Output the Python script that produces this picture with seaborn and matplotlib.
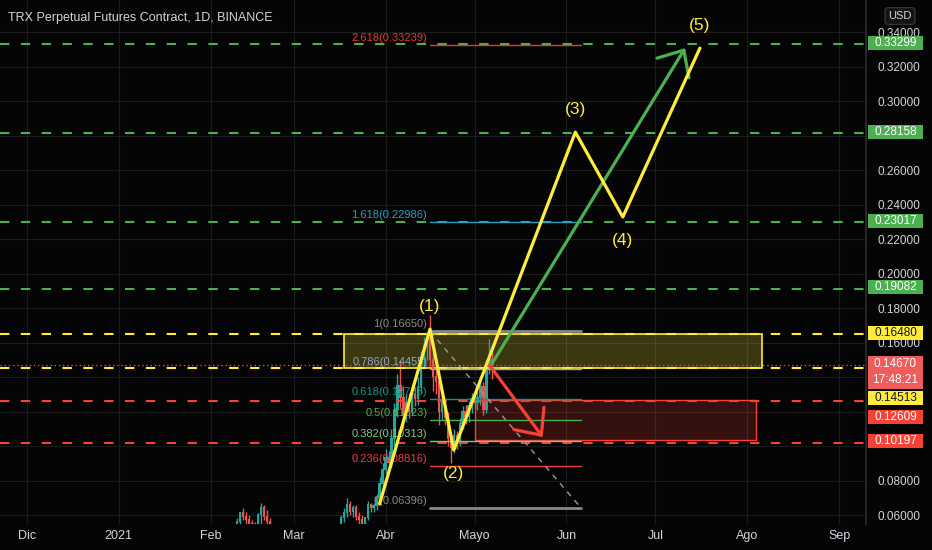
import numpy as np
import pandas as pd
import matplotlib
matplotlib.use('Agg')
import matplotlib.pyplot as plt
import matplotlib.dates as mdates
from matplotlib.patches import Rectangle
import seaborn as sns

# ---------------- datos ----------------
# velas diarias (OHLC) visibles
fechas_feb = pd.date_range('2021-02-10', '2021-02-21')
open_feb = [0.053, 0.056, 0.061, 0.059, 0.057, 0.055, 0.052, 0.055, 0.060, 0.064, 0.059, 0.056]
high_feb = [0.058, 0.062, 0.064, 0.062, 0.060, 0.057, 0.056, 0.061, 0.067, 0.066, 0.063, 0.058]
low_feb = [0.051, 0.054, 0.057, 0.055, 0.053, 0.050, 0.050, 0.053, 0.055, 0.057, 0.054, 0.051]
close_feb = [0.056, 0.061, 0.059, 0.057, 0.055, 0.052, 0.055, 0.060, 0.064, 0.059, 0.056, 0.053]

fechas_abr = pd.date_range('2021-03-17', '2021-05-07')
open_abr = [0.054, 0.058, 0.061, 0.066, 0.062, 0.064, 0.059, 0.057, 0.055, 0.058, 0.066, 0.064,
            0.065, 0.070, 0.078, 0.086, 0.093, 0.090, 0.104, 0.121, 0.135, 0.128, 0.118, 0.125,
            0.120, 0.130, 0.127, 0.134, 0.150, 0.158, 0.162, 0.150, 0.140, 0.137, 0.120, 0.125,
            0.116, 0.104, 0.099, 0.106, 0.102, 0.113, 0.120, 0.117, 0.123, 0.127, 0.125, 0.128,
            0.134, 0.121, 0.145, 0.150]
high_abr = [0.060, 0.064, 0.070, 0.068, 0.066, 0.066, 0.062, 0.060, 0.059, 0.068, 0.067, 0.067,
            0.072, 0.082, 0.090, 0.098, 0.097, 0.110, 0.125, 0.142, 0.150, 0.135, 0.130, 0.131,
            0.136, 0.134, 0.140, 0.155, 0.163, 0.166, 0.176, 0.158, 0.146, 0.140, 0.131, 0.127,
            0.120, 0.107, 0.110, 0.109, 0.116, 0.123, 0.124, 0.126, 0.131, 0.131, 0.132, 0.138,
            0.137, 0.150, 0.162, 0.156]
low_abr = [0.052, 0.056, 0.059, 0.060, 0.059, 0.057, 0.054, 0.052, 0.053, 0.057, 0.062, 0.062,
           0.063, 0.068, 0.075, 0.084, 0.086, 0.088, 0.100, 0.117, 0.122, 0.110, 0.114, 0.116,
           0.118, 0.123, 0.124, 0.131, 0.146, 0.150, 0.146, 0.132, 0.130, 0.112, 0.115, 0.112,
           0.100, 0.090, 0.096, 0.098, 0.100, 0.110, 0.113, 0.114, 0.119, 0.122, 0.121, 0.124,
           0.118, 0.119, 0.142, 0.139]
close_abr = [0.058, 0.061, 0.066, 0.062, 0.064, 0.059, 0.057, 0.055, 0.058, 0.066, 0.064, 0.065,
             0.070, 0.078, 0.086, 0.093, 0.090, 0.104, 0.121, 0.135, 0.128, 0.118, 0.125, 0.120,
             0.130, 0.127, 0.134, 0.150, 0.158, 0.162, 0.150, 0.140, 0.137, 0.120, 0.125, 0.116,
             0.104, 0.099, 0.106, 0.102, 0.113, 0.120, 0.117, 0.123, 0.127, 0.125, 0.128, 0.134,
             0.121, 0.145, 0.150, 0.1467]

# niveles horizontales
niveles_verdes = [0.33299, 0.28158, 0.23017, 0.19082]
niveles_amarillos = [0.16480, 0.14513]
niveles_rojos = [0.12609, 0.10197]
precio_actual = 0.14670
hora_cierre = '17:48:21'

# fibonacci
fib_ratios = ['0', '0.236', '0.382', '0.5', '0.618', '0.786', '1', '1.618', '2.618']
fib_precios = [0.06396, 0.08816, 0.10313, 0.11523, 0.12733, 0.14455, 0.16650, 0.22986, 0.33239]
fib_colores = ['#8a8a80', '#f23645', '#81c784', '#4caf50', '#089981', '#8fa9bf', '#8a8a80',
               '#2a9fbf', '#e53935']
fib_desde, fib_hasta = '2021-04-16', '2021-06-06'

# ondas de elliott
onda_fechas = ['2021-03-30', '2021-04-16', '2021-04-24', '2021-06-04', '2021-06-20', '2021-07-16']
onda_precios = [0.0664, 0.1678, 0.0977, 0.2820, 0.2328, 0.3307]
onda_etiquetas = ['', '(1)', '(2)', '(3)', '(4)', '(5)']

# flechas y zonas
flecha_verde = (('2021-05-07', 0.1481), ('2021-07-11', 0.3307))
flecha_roja = (('2021-05-06', 0.1470), ('2021-05-24', 0.1052))
zona_amarilla = ('2021-03-18', '2021-08-06', 0.1452, 0.1652)
zona_roja = ('2021-05-01', '2021-08-04', 0.1035, 0.1267)

meses = ['2020-12-01', '2021-01-01', '2021-02-01', '2021-03-01', '2021-04-01', '2021-05-01',
         '2021-06-01', '2021-07-01', '2021-08-01', '2021-09-01']
meses_txt = ['Dic', '2021', 'Feb', 'Mar', 'Abr', 'Mayo', 'Jun', 'Jul', 'Ago', 'Sep']
precios_grid = np.round(np.arange(0.06, 0.3401, 0.02), 2)
# las marcas tapadas por las cajas de precio no se escriben
precios_eje = [p for p in precios_grid if p not in (0.10, 0.12, 0.14, 0.28)]

# ---------------- estilo ----------------
FONDO = '#050505'
GRID = '#1c1c1c'
TXT = '#d1d4dc'
VERDE = '#4caf50'
AMARILLO = '#ffeb3b'
ROJO = '#f44336'
V_VELA = '#26a69a'
R_VELA = '#ef5350'

sns.set_theme(style='dark', rc={'axes.facecolor': FONDO, 'figure.facecolor': FONDO,
                                'axes.edgecolor': '#2a2a2a', 'grid.color': GRID})
plt.rcParams['font.family'] = ['Liberation Sans', 'DejaVu Sans']


def num(f):
    return mdates.date2num(pd.Timestamp(f))


def velas(ax, fechas, o, h, l, c):
    """dibuja velas japonesas"""
    x = mdates.date2num(fechas)
    o, h, l, c = map(np.array, (o, h, l, c))
    col = np.where(c >= o, V_VELA, R_VELA)
    ax.vlines(x, l, h, colors=col, lw=1.0, zorder=2)
    ax.bar(x, np.abs(c - o) + 0.0006, bottom=np.minimum(o, c), width=0.8, color=col,
           linewidth=0, zorder=2)


def caja_precio(fig, y_px, texto, fondo, color, alto=14):
    fig.add_artist(Rectangle((868 / 932, 1 - (y_px + alto / 2) / 550), 55 / 932, alto / 550,
                             transform=fig.transFigure, fc=fondo, ec='none', zorder=10))
    fig.text(895.5 / 932, 1 - y_px / 550, texto, ha='center', va='center', color=color,
             fontsize=8.5, zorder=11, linespacing=1.35)


fig = plt.figure(figsize=(9.32, 5.5), dpi=100)
ax = fig.add_axes([0, 26 / 550, 866 / 932, 524 / 550])
ax.set_xlim(num('2020-11-22'), num('2021-09-10'))
ax.set_ylim(0.0548, 0.3586)

# grid
for m in meses:
    ax.axvline(num(m), color=GRID, lw=0.8, zorder=0)
for p in precios_grid:
    ax.axhline(p, color=GRID, lw=0.8, zorder=0)

# zonas
x0, x1, y0, y1 = zona_amarilla
ax.add_patch(Rectangle((num(x0), y0), num(x1) - num(x0), y1 - y0, fc=AMARILLO, alpha=0.22,
                       ec='none', zorder=1))
ax.add_patch(Rectangle((num(x0), y0), num(x1) - num(x0), y1 - y0, fc='none', ec=AMARILLO,
                       lw=1.2, zorder=1))
x0, x1, y0, y1 = zona_roja
ax.add_patch(Rectangle((num(x0), y0), num(x1) - num(x0), y1 - y0, fc=ROJO, alpha=0.2,
                       ec='none', zorder=1))
ax.add_patch(Rectangle((num(x0), y0), num(x1) - num(x0), y1 - y0, fc='none', ec=ROJO,
                       lw=1.0, zorder=1))

velas(ax, fechas_feb, open_feb, high_feb, low_feb, close_feb)
velas(ax, fechas_abr, open_abr, high_abr, low_abr, close_abr)

# niveles punteados
for lista, col in [(niveles_verdes, VERDE), (niveles_amarillos, AMARILLO), (niveles_rojos, ROJO)]:
    for p in lista:
        ax.axhline(p, color=col, lw=1.5, ls=(0, (4.5, 5.5)), zorder=3)
ax.axhline(precio_actual, color=ROJO, lw=1, ls=(0, (1, 2)), zorder=3)

# fibonacci
fx0, fx1 = num(fib_desde), num(fib_hasta)
for r, p, col in zip(fib_ratios, fib_precios, fib_colores):
    grosor = 2 if r in ('0', '1') else 1
    ax.plot([fx0, fx1], [p, p], color=col, lw=grosor, zorder=4)
    ax.annotate(f'{r}({p:.5f})', xy=(fx0, p), xytext=(-2, 1.5), textcoords='offset points',
                ha='right', va='bottom', color=col, fontsize=8, zorder=5)
ax.plot([fx0, fx1], [fib_precios[6], fib_precios[0]], color='#9a9a9a', lw=1,
        ls=(0, (4, 4)), zorder=4)

# ondas
onda_x = [num(f) for f in onda_fechas]
sns.lineplot(x=onda_x, y=onda_precios, sort=False, color=AMARILLO, lw=2.3, ax=ax, zorder=7)
for i, (x, p, t) in enumerate(zip(onda_x, onda_precios, onda_etiquetas)):
    if not t:
        continue
    dy = 16 if i % 2 == 1 else -17
    ax.annotate(t, xy=(x, p), xytext=(0, dy), textcoords='offset points', ha='center',
                va='center', color=AMARILLO, fontsize=12.5, zorder=8)

# flechas
for (a, b), col in [(flecha_verde, VERDE), (flecha_roja, ROJO)]:
    ax.annotate('', xy=(num(b[0]), b[1]), xytext=(num(a[0]), a[1]),
                arrowprops=dict(arrowstyle='->,head_length=1.5,head_width=1.35', color=col,
                                lw=2.3, shrinkA=0, shrinkB=0, mutation_scale=10), zorder=6)

# ejes
ax.set_xticks([num(m) for m in meses])
ax.set_xticklabels(meses_txt)
ax.yaxis.tick_right()
ax.set_yticks(precios_eje)
ax.set_yticklabels([f'{p:.5f}' for p in precios_eje])
ax.tick_params(axis='x', length=0, pad=4, colors=TXT, labelsize=9)
ax.tick_params(axis='y', length=0, pad=8, colors=TXT, labelsize=8.5)
ax.grid(False)
for s in ['top', 'left', 'bottom']:
    ax.spines[s].set_visible(False)
ax.spines['right'].set_color('#2a2a2a')

ax.text(8 / 866, 1 - 18 / 524, 'TRX Perpetual Futures Contract, 1D, BINANCE', transform=ax.transAxes,
        ha='left', va='center', color=TXT, fontsize=9)

# cajas del eje de precios
cajas_y = [43, 132, 221, 287, 333, 398, 417, 441]
cajas = ([(p, VERDE, 'white') for p in niveles_verdes] +
         [(p, AMARILLO, '#131722') for p in niveles_amarillos[:1]])
for (p, fondo, col), y in zip(cajas, cajas_y[:5]):
    caja_precio(fig, y, f'{p:.5f}', fondo, col)
caja_precio(fig, 372, f'{precio_actual:.5f}\n{hora_cierre}', '#f05b5b', 'white', alto=33)
caja_precio(fig, cajas_y[5], f'{niveles_amarillos[1]:.5f}', AMARILLO, '#131722')
caja_precio(fig, cajas_y[6], f'{niveles_rojos[0]:.5f}', ROJO, 'white')
caja_precio(fig, cajas_y[7], f'{niveles_rojos[1]:.5f}', ROJO, 'white')

fig.text(900 / 932, 1 - 16 / 550, 'USD', ha='center', va='center', color=TXT, fontsize=8,
         zorder=11, bbox=dict(boxstyle='round,pad=0.3', fc='#141414', ec='#3a3a3a', lw=0.8))

fig.savefig('out.png', dpi=100, facecolor=FONDO)
